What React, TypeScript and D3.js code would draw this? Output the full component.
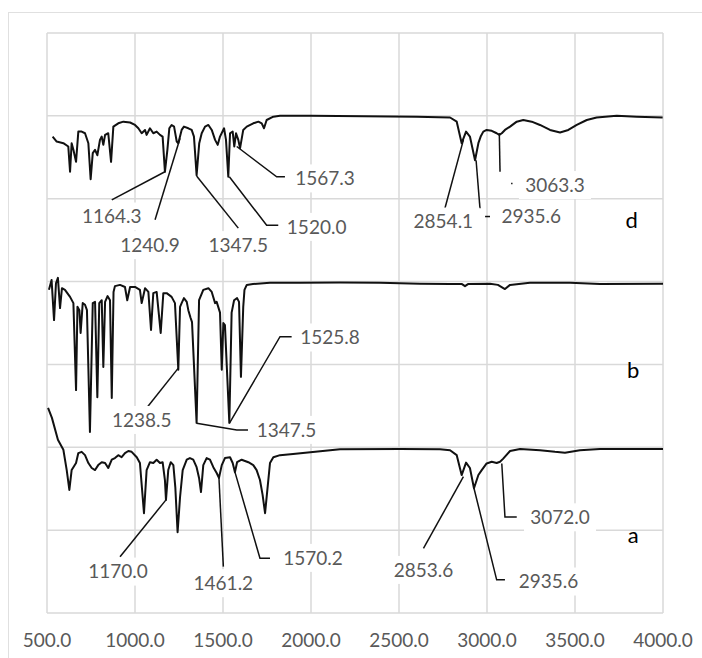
import * as d3 from "d3"

// wavenumber (cm-1) / stacked transmittance readings, one pair of arrays per spectrum
const dWave = [532, 555, 593, 621, 631, 640, 650, 665, 678, 697, 716, 735, 748, 760, 773, 786, 801, 811, 820, 830, 848, 864, 877, 905, 934, 972, 1000, 1019, 1038, 1057, 1066, 1085, 1104, 1123, 1142, 1157, 1170, 1184, 1195, 1208, 1222, 1237, 1246, 1265, 1278, 1303, 1322, 1335, 1350, 1365, 1379, 1398, 1417, 1436, 1455, 1470, 1483, 1506, 1517, 1530, 1540, 1555, 1564, 1574, 1587, 1597, 1615, 1635, 1672, 1701, 1720, 1733, 1748, 1786, 1824, 2000, 2300, 2600, 2790, 2828, 2856, 2881, 2903, 2932, 2951, 2964, 2979, 2998, 3027, 3055, 3070, 3084, 3102, 3131, 3169, 3206, 3254, 3301, 3358, 3415, 3462, 3510, 3567, 3623, 3737, 3851, 3998]
const dTrans = [115.0, 113.8, 113.4, 112.6, 106.5, 113.4, 111.8, 108.9, 116.2, 116.2, 115.8, 113.4, 104.7, 111.0, 111.8, 110.5, 114.2, 115.0, 113.0, 115.4, 115.8, 108.9, 117.4, 118.2, 118.6, 118.4, 117.8, 117.0, 115.8, 116.6, 115.4, 117.0, 115.8, 116.2, 115.4, 115.0, 106.5, 111.8, 117.0, 117.8, 117.4, 113.8, 113.4, 116.6, 117.4, 117.0, 116.6, 115.0, 105.7, 113.4, 115.8, 117.4, 117.8, 116.6, 114.2, 113.0, 115.0, 117.0, 114.2, 105.3, 115.8, 116.2, 112.6, 115.8, 114.2, 112.2, 116.6, 117.4, 118.2, 118.6, 118.2, 117.0, 119.0, 119.8, 120.0, 120.0, 119.9, 119.8, 119.6, 118.6, 113.4, 116.2, 115.0, 109.3, 113.4, 115.0, 116.2, 116.6, 116.4, 115.8, 115.4, 115.8, 116.6, 117.4, 118.6, 119.0, 118.6, 117.8, 116.6, 116.0, 116.6, 117.8, 119.0, 119.6, 120.0, 119.8, 119.6]

const bWave = [511, 526, 540, 551, 562, 574, 585, 602, 631, 650, 665, 673, 684, 691, 703, 716, 727, 744, 760, 773, 786, 797, 811, 820, 830, 844, 858, 868, 878, 886, 915, 943, 956, 972, 1000, 1028, 1038, 1057, 1076, 1091, 1104, 1123, 1146, 1161, 1180, 1208, 1227, 1246, 1256, 1265, 1278, 1294, 1303, 1316, 1324, 1350, 1364, 1388, 1417, 1436, 1455, 1464, 1483, 1493, 1502, 1511, 1536, 1549, 1563, 1580, 1591, 1602, 1615, 1622, 1635, 1670, 1767, 1938, 2165, 2392, 2619, 2790, 2858, 2875, 2892, 3017, 3062, 3102, 3131, 3244, 3472, 3642, 4000]
const bTrans = [78.0, 80.4, 70.7, 79.6, 80.9, 73.6, 78.4, 78.0, 76.3, 74.8, 53.8, 73.9, 73.1, 67.6, 74.8, 74.4, 73.1, 43.7, 74.8, 75.1, 52.1, 74.8, 75.5, 59.4, 75.1, 76.5, 75.5, 51.9, 77.5, 78.9, 79.2, 78.7, 75.5, 78.7, 78.7, 78.0, 74.8, 78.4, 77.5, 68.3, 77.2, 77.5, 67.6, 77.2, 77.2, 76.3, 74.8, 58.7, 73.9, 74.8, 76.0, 75.1, 73.1, 71.2, 70.2, 45.9, 75.5, 78.0, 78.4, 77.5, 74.8, 75.1, 72.5, 58.7, 70.0, 69.5, 45.9, 72.5, 75.5, 76.0, 75.1, 57.0, 73.9, 78.0, 79.2, 79.4, 79.7, 79.7, 79.8, 79.7, 79.5, 79.4, 79.4, 78.9, 79.4, 79.5, 79.2, 78.2, 79.2, 79.7, 79.7, 79.4, 79.5]

const aWave = [506, 528, 562, 593, 612, 627, 640, 650, 665, 678, 697, 716, 735, 754, 773, 791, 811, 830, 848, 868, 886, 905, 924, 943, 962, 981, 1010, 1028, 1051, 1066, 1085, 1104, 1123, 1142, 1157, 1170, 1176, 1189, 1203, 1218, 1229, 1242, 1256, 1271, 1294, 1312, 1331, 1350, 1364, 1375, 1388, 1407, 1426, 1445, 1464, 1477, 1493, 1511, 1540, 1555, 1568, 1580, 1606, 1644, 1672, 1691, 1710, 1725, 1739, 1752, 1767, 1786, 1824, 1898, 2165, 2506, 2733, 2790, 2828, 2856, 2881, 2903, 2926, 2951, 2970, 2998, 3027, 3055, 3074, 3091, 3131, 3188, 3301, 3386, 3443, 3528, 3642, 4000]
const aTrans = [49.5, 47.1, 41.8, 39.4, 34.5, 29.7, 34.5, 35.2, 36.2, 38.6, 38.9, 38.1, 36.2, 35.0, 34.5, 35.7, 36.4, 36.2, 35.0, 37.0, 37.4, 38.1, 37.6, 38.6, 39.1, 38.9, 37.6, 36.2, 24.1, 34.5, 36.4, 36.2, 37.0, 36.2, 36.4, 32.1, 27.3, 34.5, 36.4, 35.7, 30.4, 19.5, 28.0, 34.5, 37.0, 37.4, 37.0, 35.2, 32.6, 29.2, 35.7, 37.4, 37.0, 35.2, 33.8, 32.6, 35.7, 37.4, 37.6, 36.2, 34.0, 36.4, 37.0, 36.4, 35.7, 34.5, 32.1, 28.5, 24.1, 29.7, 36.2, 37.6, 38.1, 38.4, 39.5, 39.6, 39.5, 39.3, 38.1, 33.3, 36.3, 35.0, 30.1, 33.3, 34.5, 36.1, 36.5, 36.2, 36.5, 37.2, 39.1, 39.6, 39.3, 38.9, 38.7, 39.3, 39.6, 39.6]

const xTicks = [500, 1000, 1500, 2000, 2500, 3000, 3500, 4000]
const yGrid = [0, 20, 40, 60, 80, 100, 120, 140]

// peak labels: text, label centre [wn, T], leader polylines in [wn, T]
type PeakLabel = { text: string; at: [number, number]; leader: [number, number][][] }

const dLabels: PeakLabel[] = [
  { text: "1164.3", at: [868, 95.7], leader: [[[1170, 106.5], [868, 99.7]]] },
  { text: "1240.9", at: [1085, 88.8], leader: [[[1256, 114.6], [1114, 94.9]]] },
  { text: "1347.5", at: [1587, 88.8], leader: [[[1350, 105.5], [1587, 92.9]]] },
  { text: "1520.0", at: [2032, 93.2], leader: [[[1536, 105.3], [1748, 93.6], [1814, 93.6]]] },
  { text: "1567.3", at: [2080, 104.9], leader: [[[1578, 112.6], [1805, 105.3], [1852, 105.3]]] },
  { text: "2854.1", at: [2752, 94.5], leader: [[[2866, 114.2], [2761, 97.7]]] },
  { text: "2935.6", at: [3251, 95.7], leader: [[[2938, 109.3], [2960, 97.7]], [[2989, 95.7], [3017, 95.7]]] },
  { text: "3063.3", at: [3386, 103.3], leader: [[[3070, 115.8], [3074, 106.5]], [[3137, 103.7], [3145, 103.7]]] }
]
const bLabels: PeakLabel[] = [
  { text: "1238.5", at: [1038, 46.6], leader: [[[1246, 59.1], [1057, 49.0]]] },
  { text: "1347.5", at: [1861, 44.2], leader: [[[1350, 45.8], [1578, 44.2], [1642, 44.2]]] },
  { text: "1525.8", at: [2108, 66.5], leader: [[[1536, 45.8], [1824, 66.7], [1890, 66.7]]] }
]
const aLabels: PeakLabel[] = [
  { text: "1170.0", at: [903, 10.0], leader: [[[1176, 27.3], [915, 13.6]]] },
  { text: "1461.2", at: [1502, 7.2], leader: [[[1477, 32.6], [1502, 11.2]]] },
  { text: "1570.2", at: [2011, 13.3], leader: [[[1568, 34.0], [1710, 13.2], [1767, 13.2]]] },
  { text: "2853.6", at: [2639, 10.4], leader: [[[2866, 32.9], [2639, 15.6]]] },
  { text: "2935.6", at: [3349, 7.6], leader: [[[2926, 30.1], [3055, 8.0], [3102, 8.0]]] },
  { text: "3072.0", at: [3415, 23.1], leader: [[[3084, 36.1], [3102, 23.2], [3169, 23.2]]] }
]

const seriesNames = ["d", "b", "a"]
const seriesTagAt: [number, number][] = [[3822, 94.9], [3831, 58.7], [3831, 18.8]]

const W = 702
const H = 658
const plot = { left: 47, right: 663, top: 33, bottom: 613 }
const font = "Lato, 'Liberation Sans', sans-serif"
const grid = "#d9d9d9"
const textGrey = "#595959"

export default function App() {
  const x = d3.scaleLinear().domain([500, 4000]).range([plot.left, plot.right])
  const y = d3.scaleLinear().domain([0, 140]).range([plot.bottom, plot.top])
  const line = d3
    .line<[number, number]>()
    .x(d => x(d[0]))
    .y(d => y(d[1]))

  const spectra = [
    d3.zip(dWave, dTrans) as [number, number][],
    d3.zip(bWave, bTrans) as [number, number][],
    d3.zip(aWave, aTrans) as [number, number][]
  ]
  const labels = [...dLabels, ...bLabels, ...aLabels]
  const fmt = d3.format(".1f")

  return (
    <svg
      width={W}
      height={H}
      style={{ position: "absolute", left: 0, top: 0, background: "#fff" }}
    >
      <rect x={8.5} y={12.5} width={W + 20} height={H + 20} fill="#fff" stroke="#e0e0e0" />

      {/* gridlines */}
      {yGrid.map(v => (
        <line key={"h" + v} x1={plot.left} x2={plot.right} y1={y(v)} y2={y(v)} stroke={grid} strokeWidth={1.5} />
      ))}
      {xTicks.map(v => (
        <line key={"v" + v} x1={x(v)} x2={x(v)} y1={plot.top} y2={plot.bottom} stroke={grid} strokeWidth={1.5} />
      ))}

      {/* x tick labels */}
      {xTicks.map(v => (
        <text
          key={"t" + v}
          x={x(v)}
          y={647}
          textAnchor="middle"
          fontFamily={font}
          fontSize={19}
          fill={textGrey}
        >
          {fmt(v)}
        </text>
      ))}

      {/* spectra */}
      {spectra.map((s, i) => (
        <path key={"s" + i} d={line(s) ?? ""} fill="none" stroke="#111" strokeWidth={2} strokeLinejoin="round" />
      ))}

      {/* leader lines */}
      {labels.map((l, i) =>
        l.leader.map((pts, j) => (
          <path key={"l" + i + "-" + j} d={line(pts) ?? ""} fill="none" stroke="#111" strokeWidth={1.5} />
        ))
      )}

      {/* peak labels on white boxes */}
      {labels.map((l, i) => {
        const w = l.text.length * 10 + 12
        return (
          <g key={"p" + i} transform={`translate(${x(l.at[0])},${y(l.at[1])})`}>
            <rect x={-w / 2} y={-14} width={w} height={28} fill="#fff" />
            <text textAnchor="middle" dy="0.36em" fontFamily={font} fontSize={19} fill={textGrey}>
              {l.text}
            </text>
          </g>
        )
      })}

      {/* series tags */}
      {seriesNames.map((n, i) => (
        <text
          key={"n" + n}
          x={x(seriesTagAt[i][0])}
          y={y(seriesTagAt[i][1])}
          dy="0.36em"
          textAnchor="middle"
          fontFamily={font}
          fontSize={22}
          fill="#000"
        >
          {n}
        </text>
      ))}
    </svg>
  )
}
